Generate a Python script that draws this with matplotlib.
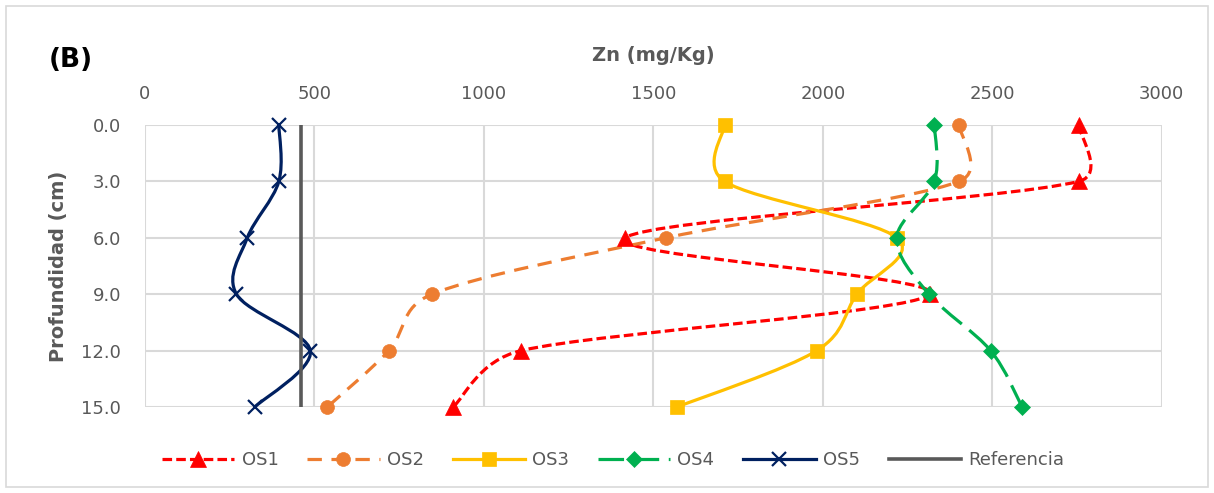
import numpy as np
import matplotlib
matplotlib.use("Agg")
import matplotlib.pyplot as plt
from matplotlib.path import Path
from matplotlib.patches import PathPatch, Rectangle
from matplotlib.lines import Line2D

# Depth (cm) and Zn concentration (mg/Kg) per sampling site
depth = [0, 3, 6, 9, 12, 15]
os1 = [2755, 2755, 1417, 2316, 1110, 909]
os2 = [2402, 2402, 1537, 847, 720, 538]
os3 = [1710, 1710, 2218, 2100, 1982, 1570]
os4 = [2329, 2329, 2218, 2313, 2495, 2588]
os5 = [395, 395, 302, 270, 488, 324]
referencia = 459

x_ticks = [0, 500, 1000, 1500, 2000, 2500, 3000]
y_ticks = [0, 3, 6, 9, 12, 15]


def smooth_path(ax, xs, ys):
    # Excel style smoothed line, worked out in pixel space:
    # Catmull-Rom tangents, each control arm kept under half its segment
    p = ax.transData.transform(np.column_stack([xs, ys]).astype(float))
    n = len(p)
    verts = [p[0]]
    codes = [Path.MOVETO]
    for i in range(n - 1):
        p0 = p[i - 1] if i > 0 else p[i]
        p3 = p[i + 2] if i + 2 < n else p[i + 1]
        seg = np.linalg.norm(p[i + 1] - p[i])
        a = (p[i + 1] - p0) / 6
        b = (p3 - p[i]) / 6
        la, lb = np.linalg.norm(a), np.linalg.norm(b)
        if la > seg / 2:
            a = a * (seg / 2) / la
        if lb > seg / 2:
            b = b * (seg / 2) / lb
        verts += [p[i] + a, p[i + 1] - b, p[i + 1]]
        codes += [Path.CURVE4] * 3
    verts = ax.transData.inverted().transform(np.array(verts))
    return Path(verts, codes)


series = [
    ("OS1", os1, "#FF0000", (0, (3, 1.3)), "^", 11),
    ("OS2", os2, "#ED7D31", (0, (4.5, 3)), "o", 10),
    ("OS3", os3, "#FFC000", "-", "s", 10),
    ("OS4", os4, "#00B050", (0, (8, 3)), "D", 8),
    ("OS5", os5, "#002060", "-", "x", 10),
]

fig = plt.figure(figsize=(12.14, 4.93), dpi=100)
ax = fig.add_axes([0.1194, 0.1744, 0.8376, 0.5721])
ax.set_xlim(0, 3000)
ax.set_ylim(15, 0)

handles = []
for name, vals, color, ls, mk, ms in series:
    patch = PathPatch(smooth_path(ax, vals, depth), fill=False, edgecolor=color,
                      linewidth=2.3, linestyle=ls, capstyle="butt", zorder=3)
    ax.add_patch(patch)
    ax.plot(vals, depth, linestyle="none", marker=mk, markersize=ms,
            color=color, markeredgewidth=1.6 if mk == "x" else 0.5,
            clip_on=False, zorder=4)
    handles.append(Line2D([], [], color=color, linestyle=ls, linewidth=2.3,
                          marker=mk, markersize=ms, markeredgewidth=1.6 if mk == "x" else 0.5,
                          label=name))

ax.plot([referencia, referencia], [depth[0], depth[-1]], color="#595959",
        linewidth=2.6, zorder=5, solid_capstyle="butt")
handles.append(Line2D([], [], color="#595959", linewidth=2.6, label="Referencia"))

ax.set_xticks(x_ticks)
ax.set_yticks(y_ticks)
ax.set_yticklabels([f"{v:.1f}" for v in y_ticks])
ax.xaxis.tick_top()
ax.xaxis.set_label_position("top")
ax.tick_params(length=0, labelsize=13, labelcolor="#595959", pad=16)
ax.tick_params(axis="y", pad=17)
ax.grid(True, color="#D9D9D9", linewidth=1.5)
ax.set_axisbelow(True)
for s in ax.spines.values():
    s.set_visible(False)

ax.set_xlabel("Zn (mg/Kg)", fontsize=14, fontweight="bold", color="#595959", labelpad=17)
ax.set_ylabel("Profundidad (cm)", fontsize=14, fontweight="bold", color="#595959", labelpad=10)

fig.text(0.04, 0.878, "(B)", fontsize=19, fontweight="bold", va="center")

fig.legend(handles=handles, loc="center", bbox_to_anchor=(0.505, 0.067), ncol=6,
           frameon=False, fontsize=13, labelcolor="#595959", handlelength=4,
           columnspacing=1.6, handletextpad=0.4)

fig.patches.append(Rectangle((0.005, 0.012), 0.99, 0.976, transform=fig.transFigure,
                             fill=False, edgecolor="#D9D9D9", linewidth=1.2))

fig.savefig("out.png", dpi=100)
